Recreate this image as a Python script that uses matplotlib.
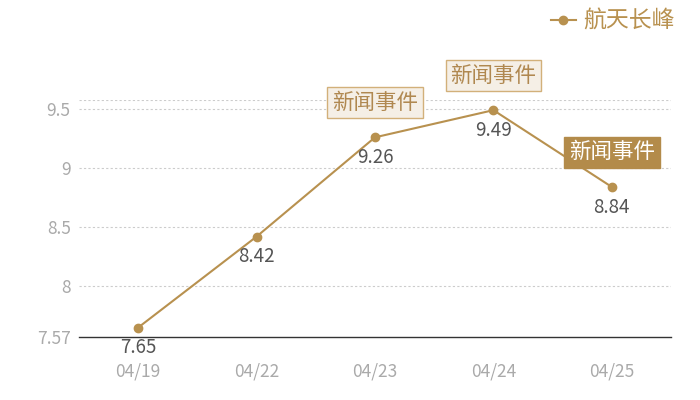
import matplotlib
matplotlib.use("Agg")
from matplotlib import pyplot as plt

plt.rcParams['font.family'] = ['Noto Sans CJK SC', 'DejaVu Sans']

dates = ["04/19", "04/22", "04/23", "04/24", "04/25"]
values = [7.65, 8.42, 9.26, 9.49, 8.84]
series_name = "航天长峰"
event_text = "新闻事件"
event_idx = [2, 3, 4]
y_ticks = [7.57, 8, 8.5, 9, 9.5]

gold = "#b8914f"
x = list(range(len(dates)))

fig = plt.figure(figsize=(7, 4), dpi=100)
ax = fig.add_axes([79 / 700, 1 - 337 / 400, (671 - 79) / 700, (337 - 100) / 400])

ax.plot(x, values, color=gold, lw=1.5, marker="o", ms=6, label=series_name, zorder=3)
for i, v in enumerate(values):
    ax.annotate(f"{v:.2f}", (i, v), xytext=(0, -7), textcoords="offset points",
                ha="center", va="top", fontsize=13.5, color="#555555")

# event markers
for i in event_idx:
    dark = i == 4
    ax.annotate(event_text, (i, values[i]), xytext=(0, 17), textcoords="offset points",
                ha="center", va="bottom", fontsize=15.5,
                color="white" if dark else "#b08850", zorder=5,
                bbox=dict(boxstyle="square,pad=0.22", fc="#b38b4a" if dark else "#f5efe6",
                          ec="#b38b4a" if dark else "#d2b07a", lw=1))

ax.set_xlim(-0.5, len(dates) - 0.5)
ax.set_ylim(7.57, 9.576)
ax.set_xticks(x)
ax.set_xticklabels(dates)
ax.set_yticks(y_ticks)
ax.set_yticklabels(["7.57", "8", "8.5", "9", "9.5"])
ax.tick_params(length=0, colors="#aaaaaa", labelsize=12.5, pad=6)
ax.tick_params(axis="x", pad=18)

for yv in [8, 8.5, 9, 9.5, 9.576]:
    ax.axhline(yv, color="#cccccc", lw=0.8, ls=(0, (2, 2)), zorder=1)

for s in ["top", "right", "left"]:
    ax.spines[s].set_visible(False)
ax.spines["bottom"].set_color("#333333")
ax.spines["bottom"].set_linewidth(1)

leg = fig.legend(loc="upper right", bbox_to_anchor=(0.983, 1.01), frameon=False,
                 fontsize=16.5, handlelength=1.1, handletextpad=0.3, borderaxespad=0.2)
for t in leg.get_texts():
    t.set_color(gold)

fig.savefig("out.png", dpi=100)
